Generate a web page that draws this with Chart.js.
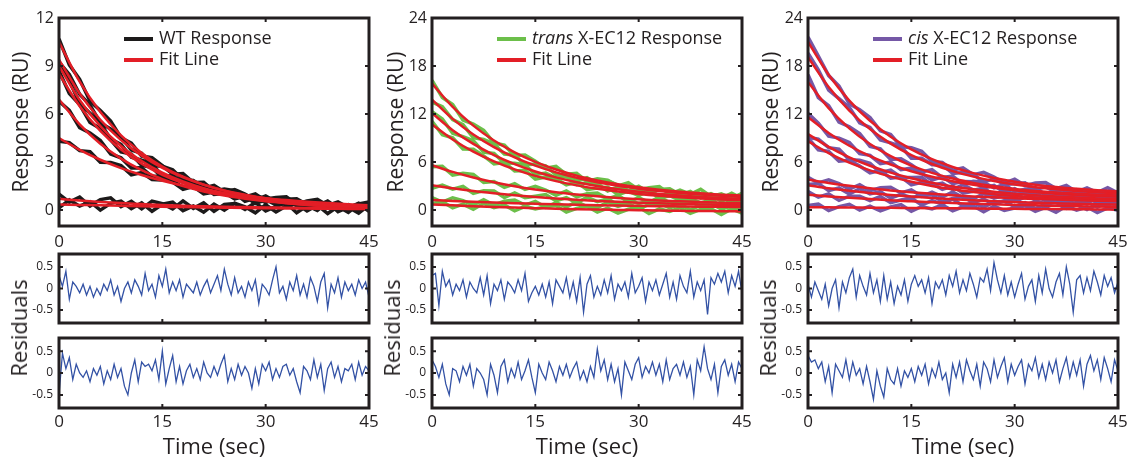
<!DOCTYPE html>
<html>
<head>
<meta charset="utf-8">
<script src="https://cdn.jsdelivr.net/npm/chart.js@4.4.1/dist/chart.umd.min.js"></script>
<style>
  body { margin: 0; background: #fff; width: 1130px; height: 461px; position: relative; overflow: hidden; font-family: "Open Sans", sans-serif; }
  canvas { position: absolute; }
  .ylab { position: absolute; font-size: 22px; color: #231f20; transform: translate(-50%, -50%) rotate(-90deg); white-space: nowrap; }
</style>
</head>
<body>
<canvas id="wtTop"></canvas>
<canvas id="wtR1"></canvas>
<canvas id="wtR2"></canvas>
<canvas id="trTop"></canvas>
<canvas id="trR1"></canvas>
<canvas id="trR2"></canvas>
<canvas id="cisTop"></canvas>
<canvas id="cisR1"></canvas>
<canvas id="cisR2"></canvas>
<div class="ylab" style="left:18px;top:328px;">Residuals</div>
<div class="ylab" style="left:391px;top:328px;">Residuals</div>
<div class="ylab" style="left:767px;top:328px;">Residuals</div>
<script>
  // time axes (sec)
  var fitTime = [0, 3, 6, 9, 12, 15, 18, 21, 24, 27, 30, 33, 36, 39, 42, 45];
  var dataTime = [0, 1.5, 3, 4.5, 6, 7.5, 9, 10.5, 12, 13.5, 15, 16.5, 18, 19.5, 21, 22.5, 24, 25.5, 27, 28.5, 30, 31.5, 33, 34.5, 36, 37.5, 39, 40.5, 42, 43.5, 45];
  var resTime = [0, 0.5, 1, 1.5, 2, 2.5, 3, 3.5, 4, 4.5, 5, 5.5, 6, 6.5, 7, 7.5, 8, 8.5, 9, 9.5,
    10, 10.5, 11, 11.5, 12, 12.5, 13, 13.5, 14, 14.5, 15, 15.5, 16, 16.5, 17, 17.5, 18, 18.5, 19, 19.5,
    20, 20.5, 21, 21.5, 22, 22.5, 23, 23.5, 24, 24.5, 25, 25.5, 26, 26.5, 27, 27.5, 28, 28.5, 29, 29.5,
    30, 30.5, 31, 31.5, 32, 32.5, 33, 33.5, 34, 34.5, 35, 35.5, 36, 36.5, 37, 37.5, 38, 38.5, 39, 39.5,
    40, 40.5, 41, 41.5, 42, 42.5, 43, 43.5, 44, 44.5, 45];
  var xTicks = [0, 15, 30, 45];
  var wtTicks = [0, 3, 6, 9, 12];
  var ecTicks = [0, 6, 12, 18, 24];
  var resTicks = [-0.5, 0, 0.5];

  // WT response (RU)
  var wtFit = [
    [10.5, 8.02, 6.12, 4.67, 3.57, 2.72, 2.08, 1.59, 1.21, 0.92, 0.71, 0.54, 0.41, 0.31, 0.24, 0.18],
    [9.4, 7.28, 5.64, 4.37, 3.39, 2.63, 2.04, 1.58, 1.22, 0.95, 0.73, 0.57, 0.44, 0.34, 0.27, 0.20],
    [9.0, 6.87, 5.24, 4.0, 3.06, 2.33, 1.78, 1.36, 1.04, 0.79, 0.60, 0.46, 0.35, 0.27, 0.21, 0.16],
    [8.5, 6.49, 4.95, 3.78, 2.89, 2.20, 1.68, 1.28, 0.98, 0.75, 0.57, 0.44, 0.33, 0.25, 0.19, 0.15],
    [6.9, 5.35, 4.14, 3.21, 2.49, 1.93, 1.49, 1.16, 0.90, 0.70, 0.54, 0.42, 0.32, 0.25, 0.19, 0.15],
    [4.5, 3.76, 3.14, 2.62, 2.19, 1.83, 1.53, 1.28, 1.07, 0.89, 0.74, 0.62, 0.52, 0.43, 0.36, 0.30],
    [0.70, 0.59, 0.50, 0.43, 0.37, 0.31, 0.27, 0.23, 0.20, 0.18, 0.16, 0.14, 0.12, 0.11, 0.10, 0.09],
    [0.35, 0.32, 0.29, 0.26, 0.23, 0.21, 0.18, 0.16, 0.14, 0.12, 0.11, 0.10, 0.09, 0.08, 0.07, 0.06]
  ];
  var wtData = [
    [10.7, 9.07, 8.17, 6.80, 6.22, 5.55, 4.52, 4.18, 3.37, 3.27, 2.77, 2.23, 2.28, 1.72, 1.74, 1.19, 1.31, 1.21, 0.82, 1.01, 0.56, 0.67, 0.74, 0.27, 0.51, 0.26, 0.56, 0.12, 0.29, 0.01, 0.33],
    [9.25, 8.47, 7.23, 6.56, 5.44, 5.07, 4.57, 3.75, 3.54, 2.78, 2.73, 2.51, 1.89, 1.84, 1.38, 1.54, 1.12, 1.28, 1.00, 0.63, 0.88, 0.50, 0.67, 0.70, 0.34, 0.54, 0.14, 0.40, 0.12, 0.43, 0.10],
    [9.10, 8.06, 6.67, 6.05, 5.44, 4.43, 4.10, 3.30, 3.11, 2.87, 2.13, 2.14, 1.73, 1.76, 1.21, 1.29, 1.19, 0.71, 0.94, 0.59, 0.65, 0.73, 0.31, 0.50, 0.15, 0.51, 0.22, 0.38, 0.01, 0.28, 0.11],
    [8.70, 7.28, 6.59, 5.47, 5.10, 4.38, 3.63, 3.50, 2.79, 2.67, 2.00, 2.03, 1.83, 1.37, 1.48, 0.97, 1.03, 1.06, 0.55, 0.75, 0.47, 0.75, 0.29, 0.43, 0.13, 0.44, 0.45, 0.12, 0.34, -0.03, 0.25],
    [6.80, 6.22, 5.15, 4.81, 4.34, 3.50, 3.26, 2.63, 2.64, 2.09, 2.13, 1.75, 1.29, 1.47, 1.01, 1.12, 1.10, 0.69, 0.85, 0.41, 0.64, 0.32, 0.62, 0.27, 0.17, 0.48, 0.20, 0.37, -0.01, 0.27, 0.35],
    [4.30, 4.21, 3.71, 3.64, 2.99, 2.97, 2.77, 2.20, 2.34, 1.90, 1.88, 1.87, 1.38, 1.50, 1.08, 1.37, 1.02, 1.12, 0.69, 0.91, 0.69, 0.78, 0.82, 0.37, 0.57, 0.67, 0.28, 0.50, 0.16, 0.38, 0.50],
    [1.00, 0.49, 0.81, 0.25, 0.65, 0.76, 0.21, 0.55, 0.07, 0.56, 0.39, 0.07, 0.57, 0.10, 0.45, -0.08, 0.35, 0.41, 0.03, 0.47, -0.06, 0.23, 0.44, -0.17, 0.27, -0.03, 0.49, -0.11, 0.18, -0.20, 0.31],
    [0.13, 0.63, 0.24, 0.52, -0.01, 0.42, 0.56, 0.09, 0.45, -0.08, 0.36, 0.49, -0.04, 0.25, -0.14, 0.37, -0.01, 0.43, 0.20, -0.18, 0.33, -0.12, 0.25, 0.39, -0.06, 0.30, -0.22, 0.22, -0.15, 0.37, -0.09]
  ];

  // trans X-EC12 response (RU)
  var transFit = [
    [15.8, 12.88, 10.55, 8.68, 7.20, 6.01, 5.06, 4.30, 3.70, 3.21, 2.83, 2.52, 2.27, 2.08, 1.92, 1.80],
    [13.8, 11.39, 9.44, 7.86, 6.58, 5.54, 4.70, 4.02, 3.47, 3.02, 2.66, 2.36, 2.12, 1.93, 1.77, 1.64],
    [12.1, 9.98, 8.26, 6.87, 5.74, 4.82, 4.08, 3.47, 2.99, 2.59, 2.27, 2.01, 1.80, 1.63, 1.49, 1.38],
    [10.7, 8.82, 7.30, 6.07, 5.07, 4.26, 3.61, 3.08, 2.65, 2.30, 2.01, 1.78, 1.60, 1.45, 1.32, 1.22],
    [5.6, 4.76, 4.06, 3.47, 2.98, 2.57, 2.23, 1.95, 1.71, 1.51, 1.34, 1.20, 1.09, 0.99, 0.91, 0.84],
    [3.1, 2.71, 2.37, 2.09, 1.84, 1.62, 1.44, 1.28, 1.14, 1.03, 0.92, 0.84, 0.76, 0.70, 0.64, 0.60],
    [1.25, 1.13, 1.03, 0.93, 0.85, 0.78, 0.71, 0.65, 0.60, 0.56, 0.52, 0.48, 0.45, 0.42, 0.40, 0.37],
    [0.70, 0.58, 0.48, 0.38, 0.30, 0.23, 0.16, 0.10, 0.05, 0.01, -0.03, -0.07, -0.10, -0.13, -0.15, -0.18]
  ];
  var transData = [
    [16.2, 14.06, 13.18, 11.25, 10.75, 9.96, 8.38, 8.10, 6.80, 6.87, 6.11, 5.21, 5.46, 4.46, 4.60, 3.58, 3.90, 3.74, 3.01, 3.41, 2.53, 2.77, 2.92, 1.99, 2.47, 1.97, 2.58, 1.70, 2.02, 1.46, 2.10],
    [13.5, 12.93, 11.29, 10.67, 9.04, 8.81, 8.26, 6.99, 6.88, 5.64, 5.74, 5.50, 4.40, 4.44, 3.62, 4.03, 3.27, 3.63, 3.12, 2.43, 2.96, 2.20, 2.56, 2.64, 1.92, 2.32, 1.53, 2.05, 1.47, 2.10, 1.44],
    [12.3, 11.38, 9.58, 9.17, 8.66, 7.23, 7.07, 5.87, 5.84, 5.65, 4.42, 4.63, 3.98, 4.16, 3.17, 3.42, 3.29, 2.38, 2.89, 2.22, 2.37, 2.54, 1.71, 2.10, 1.40, 2.11, 1.53, 1.86, 1.09, 1.63, 1.28],
    [11.1, 9.41, 9.02, 7.62, 7.60, 6.76, 5.77, 5.95, 4.87, 4.95, 3.86, 4.12, 3.91, 3.13, 3.48, 2.55, 2.75, 2.86, 1.90, 2.35, 1.81, 2.39, 1.48, 1.79, 1.20, 1.82, 1.85, 1.18, 1.62, 0.87, 1.42],
    [5.40, 5.46, 4.36, 4.59, 4.46, 3.45, 3.57, 2.82, 3.28, 2.57, 2.97, 2.50, 1.83, 2.38, 1.65, 2.02, 2.11, 1.40, 1.81, 1.02, 1.54, 0.97, 1.60, 0.94, 0.79, 1.44, 0.89, 1.25, 0.51, 1.07, 1.24],
    [2.70, 3.10, 2.61, 2.94, 2.07, 2.42, 2.39, 1.56, 2.14, 1.53, 1.72, 1.93, 1.14, 1.56, 0.88, 1.61, 1.04, 1.38, 0.63, 1.17, 0.82, 1.08, 1.24, 0.40, 0.86, 1.13, 0.40, 0.87, 0.24, 0.72, 1.00],
    [1.55, 0.99, 1.53, 1.18, 0.63, 1.28, 0.63, 1.09, 1.25, 0.61, 1.08, 0.34, 0.91, 0.38, 1.05, 0.43, 0.30, 0.98, 0.46, 0.84, 0.12, 0.70, 0.88, 0.26, 0.75, 0.03, 0.62, 0.81, 0.10, 0.48, -0.03],
    [0.80, 1.04, 0.28, 0.73, 0.08, 0.83, 0.28, 0.64, -0.10, 0.46, 0.13, 0.39, 0.56, -0.27, 0.20, 0.48, -0.25, 0.23, -0.39, 0.09, 0.37, -0.45, 0.13, -0.19, 0.30, -0.42, 0.07, 0.16, -0.55, 0.13, -0.38]
  ];

  // cis X-EC12 response (RU)
  var cisFit = [
    [21.0, 16.90, 13.68, 11.15, 9.15, 7.58, 6.35, 5.38, 4.61, 4.01, 3.54, 3.17, 2.88, 2.65, 2.47, 2.32],
    [19.1, 15.37, 12.43, 10.12, 8.30, 6.87, 5.75, 4.86, 4.17, 3.62, 3.19, 2.85, 2.58, 2.37, 2.21, 2.08],
    [16.0, 12.74, 10.21, 8.25, 6.73, 5.55, 4.64, 3.93, 3.39, 2.96, 2.63, 2.38, 2.18, 2.03, 1.91, 1.82],
    [11.6, 9.63, 8.03, 6.74, 5.69, 4.84, 4.15, 3.59, 3.14, 2.77, 2.47, 2.23, 2.04, 1.88, 1.75, 1.65],
    [9.5, 7.89, 6.58, 5.53, 4.67, 3.97, 3.41, 2.95, 2.58, 2.28, 2.04, 1.84, 1.68, 1.55, 1.45, 1.36],
    [8.6, 7.12, 5.92, 4.95, 4.17, 3.53, 3.01, 2.59, 2.25, 1.98, 1.76, 1.57, 1.43, 1.31, 1.21, 1.13],
    [3.8, 3.38, 3.02, 2.71, 2.45, 2.22, 2.02, 1.85, 1.70, 1.58, 1.47, 1.38, 1.30, 1.23, 1.17, 1.12],
    [3.1, 2.72, 2.40, 2.12, 1.88, 1.68, 1.50, 1.34, 1.21, 1.10, 1.00, 0.92, 0.85, 0.78, 0.73, 0.68],
    [1.9, 1.70, 1.52, 1.36, 1.21, 1.09, 0.98, 0.88, 0.79, 0.71, 0.64, 0.58, 0.53, 0.48, 0.44, 0.40],
    [0.35, 0.33, 0.31, 0.29, 0.27, 0.25, 0.23, 0.21, 0.19, 0.17, 0.15, 0.13, 0.11, 0.09, 0.07, 0.05]
  ];
  var cisData = [
    [21.6, 19.23, 16.80, 15.50, 13.28, 12.54, 11.55, 9.89, 9.45, 7.92, 7.78, 7.33, 6.05, 5.93, 4.98, 5.27, 4.41, 4.70, 4.11, 3.36, 3.84, 3.05, 3.37, 3.42, 2.68, 3.06, 2.25, 2.75, 2.17, 2.79, 2.12],
    [19.6, 17.52, 14.97, 13.91, 12.83, 10.90, 10.32, 8.75, 8.40, 7.94, 6.47, 6.47, 5.65, 5.68, 4.56, 4.69, 4.47, 3.48, 3.92, 3.19, 3.29, 3.41, 2.55, 2.91, 2.18, 2.87, 2.27, 2.59, 1.81, 2.34, 1.98],
    [16.9, 14.06, 13.04, 10.99, 10.41, 9.56, 7.95, 7.64, 6.33, 6.40, 5.65, 4.77, 5.04, 4.06, 4.23, 3.24, 3.59, 3.46, 2.76, 3.19, 2.33, 2.60, 2.78, 1.87, 2.38, 1.90, 2.53, 1.66, 2.01, 1.46, 2.12],
    [12.1, 10.86, 9.23, 8.99, 8.43, 7.05, 6.84, 5.79, 5.99, 5.04, 5.24, 4.58, 3.75, 4.16, 3.29, 3.55, 3.54, 2.75, 3.07, 2.21, 2.67, 2.05, 2.63, 1.93, 1.74, 2.35, 1.78, 2.11, 1.35, 1.90, 2.05],
    [9.10, 8.85, 7.79, 7.60, 6.28, 6.23, 5.83, 4.68, 4.97, 4.10, 4.07, 4.08, 3.11, 3.37, 2.55, 3.16, 2.48, 2.73, 1.88, 2.36, 1.94, 2.14, 2.24, 1.36, 1.78, 2.02, 1.25, 1.70, 1.05, 1.50, 1.76],
    [9.00, 7.52, 7.32, 6.09, 6.22, 5.51, 4.65, 4.94, 3.97, 4.13, 3.13, 3.46, 3.31, 2.59, 2.99, 2.11, 2.35, 2.51, 1.58, 2.06, 1.56, 2.16, 1.27, 1.60, 1.03, 1.66, 1.71, 1.06, 1.51, 0.77, 1.33],
    [4.10, 3.38, 3.78, 3.30, 2.62, 3.16, 2.41, 2.77, 2.85, 2.13, 2.52, 1.71, 2.22, 1.63, 2.25, 1.57, 1.40, 2.04, 1.48, 1.82, 1.07, 1.62, 1.78, 1.13, 1.60, 0.86, 1.43, 1.60, 0.87, 1.24, 0.72],
    [3.20, 3.30, 2.42, 2.76, 2.00, 2.66, 2.02, 2.30, 1.48, 1.97, 1.58, 1.78, 1.90, 1.02, 1.44, 1.68, 0.91, 1.35, 0.70, 1.15, 1.40, 0.56, 1.12, 0.78, 1.25, 0.51, 0.98, 1.06, 0.33, 1.01, 0.48],
    [2.30, 1.60, 2.00, 1.20, 1.72, 1.73, 1.16, 1.68, 0.91, 1.25, 1.49, 0.63, 1.18, 0.73, 1.38, 0.53, 0.89, 0.35, 1.01, 1.08, 0.44, 0.91, 0.18, 0.75, 0.93, 0.20, 0.68, 0.06, 0.74, 0.52, 0.10],
    [0.55, 0.74, -0.07, 0.42, 0.71, 0.00, 0.49, -0.12, 0.37, 0.66, -0.15, 0.44, 0.13, 0.62, -0.09, 0.40, 0.49, -0.22, 0.47, -0.04, 0.25, 0.54, -0.17, 0.32, -0.29, 0.50, -0.01, 0.38, -0.33, 0.26, -0.05]
  ];

  // residuals
  var wtRes1 = [0.30, 0.05, 0.40, -0.25, 0.15, 0.05, -0.10, 0.10, -0.15, 0.05,
    -0.20, 0.00, -0.15, 0.10, -0.05, 0.20, -0.15, 0.05, -0.30, 0.00,
    0.15, -0.10, 0.20, 0.05, -0.15, 0.35, -0.05, 0.10, -0.20, 0.30,
    0.05, 0.45, -0.10, 0.15, -0.05, 0.20, -0.20, 0.10, 0.00, -0.10,
    0.15, -0.15, 0.05, 0.20, -0.10, 0.10, 0.30, -0.05, 0.45, 0.10,
    -0.15, 0.25, -0.10, 0.05, -0.20, 0.15, -0.05, 0.20, -0.35, 0.10,
    0.00, -0.15, 0.20, 0.50, -0.10, 0.05, -0.25, 0.15, -0.05, 0.30,
    -0.15, 0.10, -0.20, 0.25, 0.05, -0.30, 0.15, 0.35, -0.45, 0.10,
    -0.10, 0.25, -0.20, 0.15, -0.05, 0.10, -0.15, 0.20, 0.00, 0.15, -0.20];
  var wtRes2 = [-0.50, 0.45, 0.10, 0.35, -0.15, 0.20, 0.00, -0.10, 0.05, -0.20,
    0.10, -0.05, 0.15, -0.25, 0.05, -0.15, 0.20, -0.10, 0.10, -0.30,
    -0.50, 0.00, 0.30, -0.20, 0.25, 0.15, 0.20, 0.05, 0.30, -0.15,
    0.50, -0.25, 0.10, 0.40, -0.20, 0.15, -0.25, 0.05, 0.20, -0.10,
    0.10, -0.15, 0.25, 0.00, -0.10, 0.15, -0.05, 0.20, 0.40, -0.20,
    0.10, -0.15, 0.20, -0.05, 0.15, 0.00, -0.35, 0.10, -0.25, 0.20,
    0.05, 0.25, -0.15, 0.10, -0.10, 0.15, 0.20, -0.05, 0.10, -0.20,
    -0.45, 0.15, 0.05, -0.15, 0.30, -0.10, 0.20, -0.40, 0.10, 0.25,
    -0.10, 0.15, -0.20, 0.10, 0.05, 0.20, -0.15, 0.25, -0.05, 0.15, 0.05];
  var transRes1 = [0.30, 0.35, -0.40, 0.40, 0.05, 0.20, -0.15, 0.10, -0.05, 0.20,
    -0.20, 0.15, 0.00, -0.10, 0.25, -0.15, 0.30, -0.35, 0.10, -0.05,
    0.20, -0.25, 0.15, 0.05, -0.10, 0.20, -0.05, 0.35, -0.30, -0.10,
    0.05, -0.15, 0.10, -0.20, 0.15, -0.35, 0.20, 0.05, -0.10, 0.25,
    -0.20, 0.15, -0.30, 0.25, -0.55, 0.10, 0.30, -0.20, 0.05, -0.15,
    0.20, -0.10, 0.30, -0.25, 0.10, -0.05, 0.15, -0.20, 0.35, -0.10,
    0.05, 0.25, -0.30, 0.15, -0.05, 0.20, -0.15, 0.10, 0.35, -0.20,
    0.15, -0.25, 0.30, 0.05, -0.10, 0.40, -0.20, 0.15, -0.05, 0.20,
    -0.60, 0.25, 0.10, 0.35, 0.15, 0.40, -0.10, 0.30, 0.05, 0.40, -0.10];
  var transRes2 = [0.30, 0.15, -0.10, 0.20, -0.25, -0.50, 0.10, 0.05, -0.20, 0.15,
    -0.05, 0.20, -0.30, 0.10, 0.00, -0.15, -0.50, 0.20, -0.05, -0.45,
    0.15, 0.30, -0.20, 0.10, -0.10, 0.25, -0.15, 0.05, 0.30, -0.10,
    -0.45, 0.20, 0.00, -0.15, 0.25, 0.05, -0.20, 0.15, -0.05, 0.20,
    -0.10, 0.10, 0.25, -0.15, 0.05, -0.20, 0.15, -0.10, 0.55, 0.05,
    0.30, -0.15, 0.20, -0.20, 0.10, -0.50, 0.25, 0.05, -0.15, 0.20,
    0.35, -0.10, 0.15, 0.00, 0.25, -0.05, 0.20, -0.20, 0.30, -0.15,
    0.10, 0.20, -0.05, 0.25, -0.10, 0.15, -0.50, 0.30, 0.05, 0.60,
    0.10, -0.15, 0.20, -0.45, 0.15, 0.30, -0.05, 0.20, -0.20, 0.25, 0.10];
  var cisRes1 = [0.10, -0.20, 0.15, -0.05, -0.25, 0.10, -0.40, 0.00, 0.20, -0.45,
    0.15, -0.10, 0.25, 0.45, -0.20, 0.30, 0.05, -0.15, 0.35, -0.10,
    0.20, -0.30, 0.30, -0.25, 0.15, -0.35, 0.05, -0.15, 0.20, -0.30,
    0.10, 0.30, 0.05, 0.20, -0.10, 0.25, -0.35, 0.15, 0.00, 0.20,
    -0.15, 0.30, 0.05, 0.40, -0.10, 0.20, -0.05, 0.35, 0.10, -0.20,
    0.25, 0.15, 0.45, -0.05, 0.60, 0.20, -0.10, 0.30, -0.15, 0.15,
    -0.20, 0.10, 0.35, -0.25, 0.05, 0.20, -0.30, 0.30, -0.10, 0.45,
    0.00, -0.20, 0.15, 0.35, -0.15, 0.50, 0.10, -0.55, 0.20, 0.30,
    -0.10, 0.25, -0.05, 0.40, 0.15, -0.15, 0.30, 0.05, 0.25, -0.10, 0.15];
  var cisRes2 = [0.40, 0.25, 0.30, 0.10, 0.25, -0.20, 0.15, -0.45, 0.20, 0.05,
    -0.10, 0.30, -0.15, 0.25, -0.05, 0.10, -0.25, 0.15, -0.20, -0.60,
    0.05, -0.30, -0.55, 0.10, -0.15, -0.25, 0.10, -0.30, 0.05, -0.10,
    0.10, -0.20, 0.15, -0.05, 0.20, -0.25, 0.10, -0.10, 0.25, -0.15,
    0.00, -0.45, 0.20, -0.10, 0.25, -0.20, 0.30, 0.05, -0.15, 0.20,
    -0.30, 0.25, 0.10, -0.20, 0.30, -0.10, 0.15, 0.35, -0.20, 0.20,
    -0.05, 0.15, 0.30, -0.25, 0.20, 0.05, 0.35, -0.10, 0.20, -0.15,
    0.25, 0.00, 0.30, -0.20, 0.10, 0.35, -0.10, 0.25, -0.05, 0.30,
    -0.30, 0.20, 0.40, 0.05, 0.30, -0.15, 0.35, 0.10, -0.20, 0.30, 0.05];

  var INK = '#231f20';
  var RED = '#e31e26';
  var BLUE = '#3352a5';
  var FONT = '"Open Sans", sans-serif';

  function pts(times, vals) {
    var out = [];
    var n = Math.min(times.length, vals.length);
    for (var i = 0; i < n; i++) out.push({ x: times[i], y: vals[i] });
    return out;
  }

  // box round the plot area plus small inward ticks, and the line legend
  var framePlugin = {
    id: 'frame',
    afterDatasetsDraw: function (chart, args, opts) {
      var a = chart.chartArea, ctx = chart.ctx;
      var xs = chart.scales.x, ys = chart.scales.y;
      ctx.save();
      ctx.strokeStyle = INK;
      ctx.lineWidth = 2;
      ctx.beginPath();
      xTicks.forEach(function (v) {
        var px = xs.getPixelForValue(v);
        ctx.moveTo(px, a.top); ctx.lineTo(px, a.top + 4);
        ctx.moveTo(px, a.bottom); ctx.lineTo(px, a.bottom - 4);
      });
      (opts.yTicks || []).forEach(function (v) {
        var py = ys.getPixelForValue(v);
        ctx.moveTo(a.left, py); ctx.lineTo(a.left + 4, py);
        ctx.moveTo(a.right, py); ctx.lineTo(a.right - 4, py);
      });
      ctx.stroke();
      ctx.lineWidth = 3;
      ctx.strokeRect(a.left, a.top, a.right - a.left, a.bottom - a.top);

      if (opts.legend) {
        ctx.textBaseline = 'middle';
        opts.legend.forEach(function (item, i) {
          var y = a.top + 21 + i * 21;
          ctx.strokeStyle = item.color;
          ctx.lineWidth = 4;
          ctx.beginPath();
          ctx.moveTo(a.left + 65, y); ctx.lineTo(a.left + 94, y);
          ctx.stroke();
          var x = a.left + 100;
          ctx.fillStyle = INK;
          item.parts.forEach(function (p) {
            ctx.font = (p.italic ? 'italic ' : '') + '18px ' + FONT;
            ctx.fillText(p.text, x, y);
            x += ctx.measureText(p.text).width;
          });
        });
      }
      ctx.restore();
    }
  };

  function makeChart(id, box, datasets, o) {
    var canvas = document.getElementById(id);
    canvas.width = box.w; canvas.height = box.h;
    canvas.style.left = box.left + 'px'; canvas.style.top = box.top + 'px';
    canvas.style.width = box.w + 'px'; canvas.style.height = box.h + 'px';
    return new Chart(canvas, {
      type: 'line',
      data: { datasets: datasets },
      options: {
        responsive: false,
        animation: false,
        events: [],
        layout: { padding: { top: o.padTop, right: o.padRight, bottom: o.padBottom || 0, left: 0 } },
        elements: { point: { radius: 0 } },
        plugins: {
          legend: { display: false },
          tooltip: { enabled: false },
          frame: { yTicks: o.yTicks, legend: o.legend }
        },
        scales: {
          x: {
            type: 'linear', min: 0, max: 45,
            display: o.showX,
            afterBuildTicks: function (s) { s.ticks = xTicks.map(function (v) { return { value: v }; }); },
            afterFit: function (s) { s.height = o.xh; s.paddingLeft = 0; s.paddingRight = 0; },
            grid: { display: false, drawTicks: false },
            border: { display: false },
            ticks: { color: INK, padding: o.xPad || 0, maxRotation: 0, font: { family: FONT, size: 17 }, callback: function (v) { return String(v); } },
            title: { display: !!o.xTitle, text: o.xTitle || '', color: INK, font: { family: FONT, size: 22 }, padding: { top: 0, bottom: 0 } }
          },
          y: {
            min: o.yMin, max: o.yMax,
            afterBuildTicks: function (s) { s.ticks = o.yTicks.map(function (v) { return { value: v }; }); },
            afterFit: function (s) { s.width = o.yw; s.paddingTop = 0; s.paddingBottom = 0; },
            grid: { display: false, drawTicks: false },
            border: { display: false },
            ticks: { color: INK, padding: o.yPad, font: { family: FONT, size: o.yFont }, callback: function (v) { return String(v); } },
            title: { display: !!o.yTitle, text: o.yTitle || '', color: INK, font: { family: FONT, size: 21 }, padding: { top: 9, bottom: 0 } }
          }
        }
      },
      plugins: [framePlugin]
    });
  }

  function responseSets(dataRows, fitRows, color) {
    var ds = [];
    dataRows.forEach(function (row) {
      ds.push({ data: pts(dataTime, row), borderColor: color, borderWidth: 3.5, tension: 0, order: 1 });
    });
    fitRows.forEach(function (row) {
      ds.push({ data: pts(fitTime, row), borderColor: RED, borderWidth: 2.5, cubicInterpolationMode: 'monotone', order: 0 });
    });
    return ds;
  }

  function resSet(vals) {
    return [{ data: pts(resTime, vals), borderColor: BLUE, borderWidth: 1.3, tension: 0 }];
  }

  var columns = [
    { left: 0, yw: 59, padRight: 13, color: '#1c1a1a', fit: wtFit, data: wtData, yMin: -1, yMax: 12, ticks: wtTicks,
      legend: [{ color: '#1c1a1a', parts: [{ text: 'WT Response' }] }, { color: RED, parts: [{ text: 'Fit Line' }] }],
      res1: wtRes1, res2: wtRes2, ids: ['wtTop', 'wtR1', 'wtR2'] },
    { left: 375, yw: 57, padRight: 15, color: '#6cbf4a', fit: transFit, data: transData, yMin: -2, yMax: 24, ticks: ecTicks,
      legend: [{ color: '#6cbf4a', parts: [{ text: 'trans', italic: true }, { text: ' X-EC12 Response' }] }, { color: RED, parts: [{ text: 'Fit Line' }] }],
      res1: transRes1, res2: transRes2, ids: ['trTop', 'trR1', 'trR2'] },
    { left: 750, yw: 58, padRight: 14, color: '#7558a6', fit: cisFit, data: cisData, yMin: -2, yMax: 24, ticks: ecTicks,
      legend: [{ color: '#7558a6', parts: [{ text: 'cis', italic: true }, { text: ' X-EC12 Response' }] }, { color: RED, parts: [{ text: 'Fit Line' }] }],
      res1: cisRes1, res2: cisRes2, ids: ['cisTop', 'cisR1', 'cisR2'] }
  ];

  columns.forEach(function (c) {
    makeChart(c.ids[0], { left: c.left, top: 0, w: 382, h: 252 }, responseSets(c.data, c.fit, c.color), {
      padTop: 18, padRight: c.padRight, yw: c.yw, xh: 26, showX: true, xPad: 6,
      yMin: c.yMin, yMax: c.yMax, yTicks: c.ticks, yFont: 16, yPad: 5,
      yTitle: 'Response (RU)', legend: c.legend
    });
    makeChart(c.ids[1], { left: c.left, top: 246, w: 382, h: 80 }, resSet(c.res1), {
      padTop: 8, padRight: c.padRight, padBottom: 3, yw: c.yw, xh: 0, showX: false,
      yMin: -0.8, yMax: 0.8, yTicks: resTicks, yFont: 12, yPad: 6
    });
    makeChart(c.ids[2], { left: c.left, top: 330, w: 382, h: 131 }, resSet(c.res2), {
      padTop: 8, padRight: c.padRight, yw: c.yw, xh: 53, showX: true, xPad: 4,
      yMin: -0.8, yMax: 0.8, yTicks: resTicks, yFont: 12, yPad: 6,
      xTitle: 'Time (sec)'
    });
  });
</script>
</body>
</html>
